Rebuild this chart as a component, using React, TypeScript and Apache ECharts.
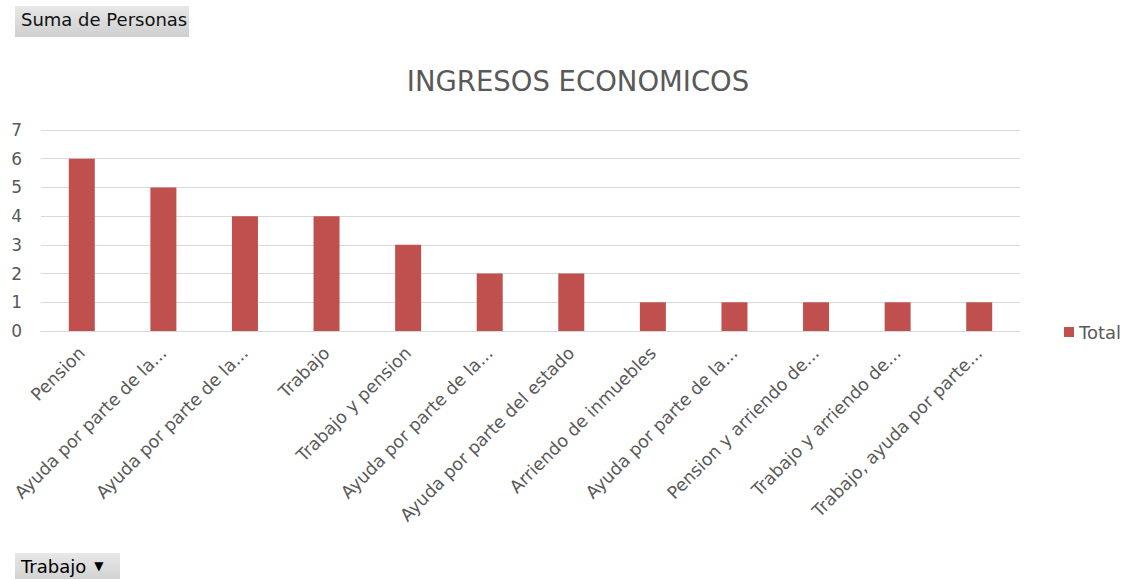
import React, { useEffect, useRef } from "react";
import * as echarts from "echarts";

const categories = [
  "Pension",
  "Ayuda por parte de la...",
  "Ayuda por parte de la...",
  "Trabajo",
  "Trabajo y pension",
  "Ayuda por parte de la...",
  "Ayuda por parte del estado",
  "Arriendo de inmuebles",
  "Ayuda por parte de la...",
  "Pension y arriendo de...",
  "Trabajo y arriendo de...",
  "Trabajo, ayuda por parte...",
];
const totals = [6, 5, 4, 4, 3, 2, 2, 1, 1, 1, 1, 1];
const seriesName = "Total";
const titleText = "INGRESOS ECONOMICOS";
const fieldButton = "Suma de Personas";
const filterButton = "Trabajo";

const FONT = "'DejaVu Sans', sans-serif";

export default function App() {
  const ref = useRef<HTMLDivElement>(null);
  useEffect(() => {
    if (!ref.current) return;
    const chart = echarts.init(ref.current, undefined, { renderer: "svg" });
    const btnFill = () =>
      new echarts.graphic.LinearGradient(0, 0, 0, 1, [
        { offset: 0, color: "#e8e8e8" },
        { offset: 1, color: "#cfcfcf" },
      ]);
    chart.setOption({
      animation: false,
      backgroundColor: "#ffffff",
      title: {
        text: titleText,
        left: 573,
        textAlign: "center",
        top: 62,
        textStyle: { fontFamily: FONT, fontSize: 27.5, fontWeight: "normal", color: "#595959" },
      },
      legend: {
        data: [seriesName],
        left: 1059,
        top: 318,
        icon: "rect",
        itemWidth: 10,
        itemHeight: 10,
        itemGap: 5,
        textStyle: { fontFamily: FONT, fontSize: 18, color: "#595959" },
      },
      grid: { left: 41, right: 105, top: 130, bottom: 248, containLabel: false },
      xAxis: {
        type: "category",
        data: categories,
        axisLine: { lineStyle: { color: "#d9d9d9" } },
        axisTick: { show: false },
        axisLabel: {
          interval: 0,
          rotate: 45,
          margin: 19,
          fontFamily: FONT,
          fontSize: 17.5,
          color: "#595959",
        },
      },
      yAxis: {
        type: "value",
        min: 0,
        max: 7,
        interval: 1,
        axisLine: { show: false },
        axisTick: { show: false },
        splitLine: { lineStyle: { color: "#d9d9d9" } },
        axisLabel: { fontFamily: FONT, fontSize: 17, color: "#595959", margin: 19 },
      },
      series: [
        {
          name: seriesName,
          type: "bar",
          data: totals,
          barWidth: 26,
          itemStyle: { color: "#c0504d" },
        },
      ],
      graphic: [
        {
          type: "rect",
          left: 15,
          top: 6,
          shape: { width: 174, height: 31 },
          style: { fill: btnFill() },
        },
        {
          type: "text",
          left: 21,
          top: 10,
          style: { text: fieldButton, fontFamily: FONT, fontSize: 18, fill: "#111111" },
        },
        {
          type: "rect",
          left: 15,
          top: 553,
          shape: { width: 105, height: 30 },
          style: { fill: btnFill() },
        },
        {
          type: "text",
          left: 21,
          top: 557,
          style: {
            text: "{a|" + filterButton + "}{b|▼}",
            rich: {
              a: { fontFamily: FONT, fontSize: 18, color: "#111111" },
              b: { fontFamily: FONT, fontSize: 12, color: "#444444", padding: [0, 0, 0, 8] },
            },
          },
        },
      ],
    });
    return () => chart.dispose();
  }, []);
  return (
    <div
      ref={ref}
      style={{ position: "fixed", left: 0, top: 0, width: 1125, height: 579, background: "#fff" }}
    />
  );
}
